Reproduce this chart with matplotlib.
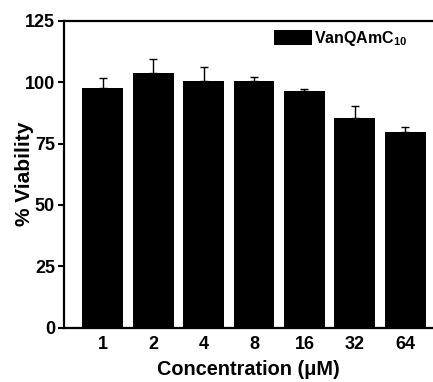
import matplotlib
matplotlib.use("Agg")
import matplotlib.pyplot as plt
import numpy as np

plt.rcParams['font.family'] = ['Liberation Sans', 'DejaVu Sans']
plt.rcParams['font.weight'] = 'bold'
plt.rcParams['mathtext.fontset'] = 'custom'
plt.rcParams['mathtext.rm'] = 'Liberation Sans:bold'
plt.rcParams['mathtext.bf'] = 'Liberation Sans:bold'

# dados
concentracoes = ["1", "2", "4", "8", "16", "32", "64"]
viabilidade = [97.6, 103.5, 100.4, 100.4, 96.3, 85.3, 79.7]
erro = [4.0, 5.9, 5.8, 1.6, 0.8, 4.9, 2.2]

fig = plt.figure(figsize=(4.33, 3.82), dpi=100)
ax = fig.add_axes([0.148, 0.1414, 0.852, 0.8049])

x = np.arange(len(concentracoes))
ax.bar(x, viabilidade, width=0.81, color='black', label=r'VanQAmC$_{\mathrm{10}}$',
       yerr=[np.zeros(len(erro)), erro], error_kw=dict(ecolor='black', elinewidth=1.0,
                                                       capsize=3, capthick=1.0))

ax.set_xlim(-0.77, 6.55)
ax.set_ylim(0, 125)
ax.set_yticks([0, 25, 50, 75, 100, 125])
ax.set_xticks(x)
ax.set_xticklabels(concentracoes)

ax.spines['right'].set_visible(False)
for s in ['left', 'top', 'bottom']:
    ax.spines[s].set_linewidth(1.6)

ax.tick_params(axis='y', direction='out', length=4.5, width=1.5, labelsize=13, pad=2)
ax.tick_params(axis='x', length=0, labelsize=13, pad=6)

ax.set_xlabel("Concentration (μM)", fontsize=14.3, fontweight='bold', labelpad=5)
ax.set_ylabel("% Viability", fontsize=15, fontweight='bold', labelpad=-6.5)

ax.legend(loc='upper left', bbox_to_anchor=(0.568, 0.972), frameon=False,
          fontsize=11.5, handlelength=2.4, handleheight=1.05, handletextpad=0.15,
          borderpad=0, borderaxespad=0)

fig.savefig("out.png", dpi=100)
